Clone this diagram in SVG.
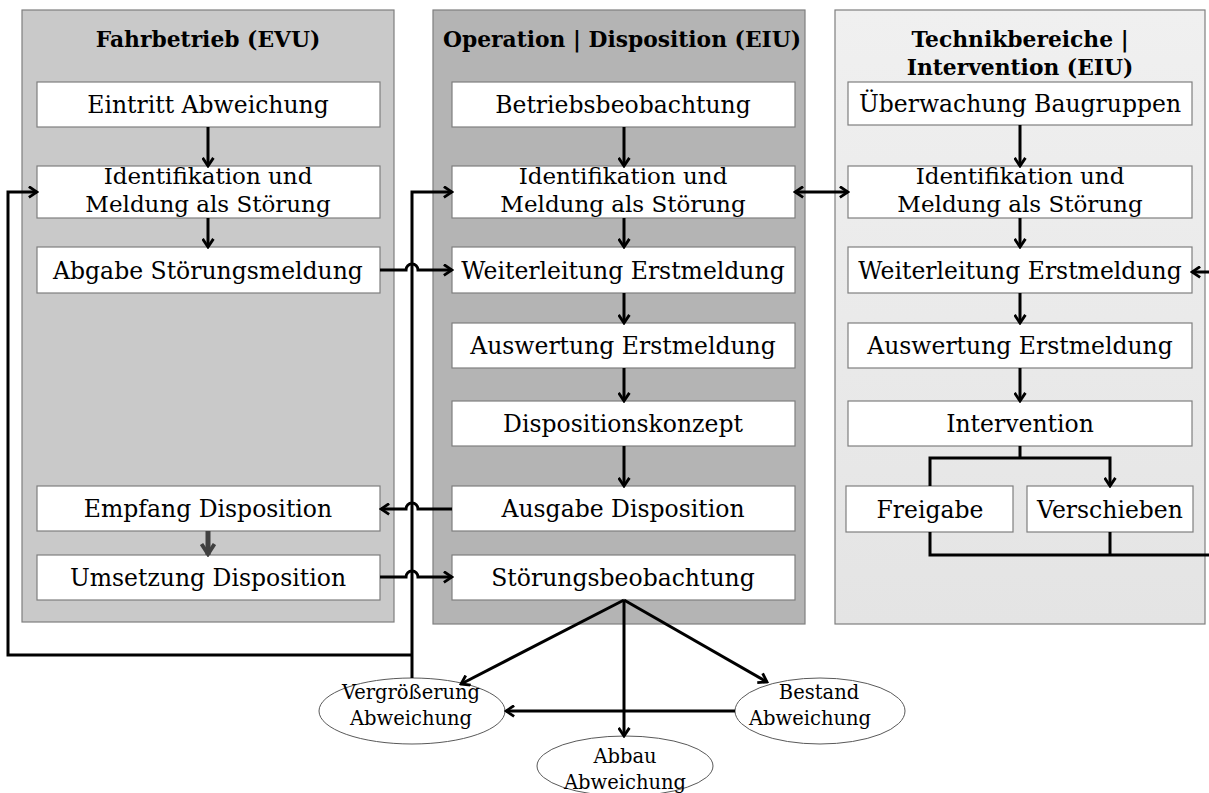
<svg xmlns="http://www.w3.org/2000/svg" width="1209" height="793" viewBox="0 0 1209 793">
  <defs>
    <linearGradient id="laneTech" x1="0" y1="0" x2="0" y2="1">
      <stop offset="0" stop-color="#f0f0f0"/>
      <stop offset="1" stop-color="#e4e4e4"/>
    </linearGradient>
    <marker id="arrow" viewBox="0 0 12 12" refX="10.5" refY="6" markerWidth="13" markerHeight="13" markerUnits="userSpaceOnUse" orient="auto-start-reverse">
      <path d="M3,1 L10.5,6 L3,11" fill="none" stroke="#000" stroke-width="2.6" stroke-linejoin="miter"/>
    </marker>
    <marker id="arrowGrey" viewBox="0 0 16 16" refX="14" refY="8" markerWidth="16" markerHeight="16" markerUnits="userSpaceOnUse" orient="auto">
      <path d="M3,1.5 L13,8 L3,14.5" fill="none" stroke="#404040" stroke-width="4"/>
    </marker>
    <style>
      .lane { stroke: #7f7f7f; stroke-width: 1.2; }
      .box { fill: #ffffff; stroke: #7f7f7f; stroke-width: 1.2; }
      .oval { fill: #ffffff; stroke: #595959; stroke-width: 1; }
      .title { font-family: "DejaVu Serif", "Liberation Serif", serif; font-size: 21.8px; font-weight: bold; fill: #000; text-anchor: middle; }
      .label { font-family: "DejaVu Serif", "Liberation Serif", serif; font-size: 23.5px; fill: #000; text-anchor: middle; }
      .label2 { font-family: "DejaVu Serif", "Liberation Serif", serif; font-size: 23px; fill: #000; text-anchor: middle; }
      .small { font-family: "DejaVu Serif", "Liberation Serif", serif; font-size: 19.5px; fill: #000; text-anchor: middle; }
      .conn { fill: none; stroke: #000; stroke-width: 3; }
      .arr { marker-end: url(#arrow); }
    </style>
  </defs>

  <!-- swimlanes -->
  <g id="lane-evu">
    <rect class="lane" x="22" y="10" width="372" height="612" fill="#c9c9c9"/>
    <text class="title" x="208" y="47">Fahrbetrieb (EVU)</text>
  </g>
  <g id="lane-disposition">
    <rect class="lane" x="433" y="10" width="372" height="614" fill="#b4b4b4"/>
    <text class="title" x="622" y="47">Operation | Disposition (EIU)</text>
  </g>
  <g id="lane-technik">
    <rect class="lane" x="835" y="10" width="370" height="614" fill="url(#laneTech)"/>
    <text class="title" x="1020" y="47">Technikbereiche |</text>
    <text class="title" x="1020" y="75">Intervention (EIU)</text>
  </g>

  <!-- Fahrbetrieb (EVU) -->
  <g id="evu-eintritt">
    <rect class="box" x="37" y="82" width="343" height="45"/>
    <text class="label" x="208" y="113">Eintritt Abweichung</text>
  </g>
  <g id="evu-identifikation">
    <rect class="box" x="37" y="166" width="343" height="52"/>
    <text class="label2" x="208" y="184">Identifikation und</text>
    <text class="label2" x="208" y="211.5">Meldung als Störung</text>
  </g>
  <g id="evu-abgabe">
    <rect class="box" x="37" y="247" width="343" height="46"/>
    <text class="label" x="208" y="279">Abgabe Störungsmeldung</text>
  </g>
  <g id="evu-empfang">
    <rect class="box" x="37" y="486" width="343" height="45"/>
    <text class="label" x="208" y="517">Empfang Disposition</text>
  </g>
  <g id="evu-umsetzung">
    <rect class="box" x="37" y="555" width="343" height="45"/>
    <text class="label" x="208" y="586">Umsetzung Disposition</text>
  </g>

  <!-- Operation | Disposition (EIU) -->
  <g id="op-betriebsbeobachtung">
    <rect class="box" x="452" y="82" width="343" height="45"/>
    <text class="label" x="623" y="113">Betriebsbeobachtung</text>
  </g>
  <g id="op-identifikation">
    <rect class="box" x="452" y="166" width="343" height="52"/>
    <text class="label2" x="623" y="184">Identifikation und</text>
    <text class="label2" x="623" y="211.5">Meldung als Störung</text>
  </g>
  <g id="op-weiterleitung">
    <rect class="box" x="452" y="247" width="343" height="46"/>
    <text class="label" x="623" y="279">Weiterleitung Erstmeldung</text>
  </g>
  <g id="op-auswertung">
    <rect class="box" x="452" y="323" width="343" height="45"/>
    <text class="label" x="623" y="354">Auswertung Erstmeldung</text>
  </g>
  <g id="op-dispositionskonzept">
    <rect class="box" x="452" y="401" width="343" height="45"/>
    <text class="label" x="623" y="432">Dispositionskonzept</text>
  </g>
  <g id="op-ausgabe">
    <rect class="box" x="452" y="486" width="343" height="45"/>
    <text class="label" x="623" y="517">Ausgabe Disposition</text>
  </g>
  <g id="op-stoerungsbeobachtung">
    <rect class="box" x="452" y="555" width="343" height="45"/>
    <text class="label" x="623" y="586">Störungsbeobachtung</text>
  </g>

  <!-- Technikbereiche | Intervention (EIU) -->
  <g id="tech-ueberwachung">
    <rect class="box" x="848" y="82" width="344" height="43"/>
    <text class="label" x="1020" y="112">Überwachung Baugruppen</text>
  </g>
  <g id="tech-identifikation">
    <rect class="box" x="848" y="166" width="344" height="52"/>
    <text class="label2" x="1020" y="184">Identifikation und</text>
    <text class="label2" x="1020" y="211.5">Meldung als Störung</text>
  </g>
  <g id="tech-weiterleitung">
    <rect class="box" x="848" y="247" width="344" height="46"/>
    <text class="label" x="1020" y="279">Weiterleitung Erstmeldung</text>
  </g>
  <g id="tech-auswertung">
    <rect class="box" x="848" y="323" width="344" height="45"/>
    <text class="label" x="1020" y="354">Auswertung Erstmeldung</text>
  </g>
  <g id="tech-intervention">
    <rect class="box" x="848" y="401" width="344" height="45"/>
    <text class="label" x="1020" y="432">Intervention</text>
  </g>
  <g id="tech-freigabe">
    <rect class="box" x="846" y="486" width="167" height="46"/>
    <text class="label" x="930" y="518">Freigabe</text>
  </g>
  <g id="tech-verschieben">
    <rect class="box" x="1027" y="486" width="166" height="46"/>
    <text class="label" x="1110" y="518">Verschieben</text>
  </g>

  <!-- outcome states -->
  <g id="state-vergroesserung">
    <ellipse class="oval" cx="412" cy="711" rx="93" ry="33"/>
    <text class="small" x="411" y="699">Vergrößerung</text>
    <text class="small" x="411" y="725">Abweichung</text>
  </g>
  <g id="state-bestand">
    <ellipse class="oval" cx="820" cy="711" rx="85" ry="33"/>
    <text class="small" x="819" y="699">Bestand</text>
    <text class="small" x="810" y="725">Abweichung</text>
  </g>
  <g id="state-abbau">
    <ellipse class="oval" cx="625" cy="766" rx="88" ry="30"/>
    <text class="small" x="625" y="763">Abbau</text>
    <text class="small" x="625" y="789">Abweichung</text>
  </g>

  <!-- connectors -->
  <g id="connectors">
    <!-- lane EVU -->
    <path class="conn arr" d="M208,127 V166"/>
    <path class="conn arr" d="M208,218 V247"/>
    <path d="M208,531 V555" fill="none" stroke="#404040" stroke-width="5" marker-end="url(#arrowGrey)"/>

    <!-- lane Disposition -->
    <path class="conn arr" d="M624,127 V166"/>
    <path class="conn arr" d="M624,218 V247"/>
    <path class="conn arr" d="M624,293 V323"/>
    <path class="conn arr" d="M624,368 V401"/>
    <path class="conn arr" d="M624,446 V486"/>

    <!-- lane Technik -->
    <path class="conn arr" d="M1020,125 V166"/>
    <path class="conn arr" d="M1020,218 V247"/>
    <path class="conn arr" d="M1020,293 V323"/>
    <path class="conn arr" d="M1020,368 V401"/>
    <path class="conn" d="M1020,446 V458"/>
    <path class="conn arr" d="M930,486 V458 H1110 V486"/>
    <path class="conn arr" d="M930,532 V555 H1215 V272 H1192"/>
    <path class="conn" d="M1110,532 V555"/>

    <!-- between lanes (line hops over the feedback line at x=412) -->
    <path class="conn arr" d="M380,270 H406 A6,6 0 0 1 418,270 H452"/>
    <path class="conn arr" d="M452,509 H418 A6,6 0 0 0 406,509 H381"/>
    <path class="conn arr" d="M380,577 H406 A6,6 0 0 1 418,577 H452"/>
    <path class="conn arr" d="M795,192 H848" marker-start="url(#arrow)"/>

    <!-- feedback from Vergrößerung Abweichung -->
    <path class="conn arr" d="M412,678 V192 H452"/>
    <path class="conn arr" d="M412,655 H8 V192 H37"/>

    <!-- outcomes of Störungsbeobachtung -->
    <path class="conn arr" d="M624,600 L461,684"/>
    <path class="conn arr" d="M624,600 V736"/>
    <path class="conn arr" d="M624,600 L767,682"/>
    <path class="conn arr" d="M735,711 H506"/>
  </g>
</svg>
